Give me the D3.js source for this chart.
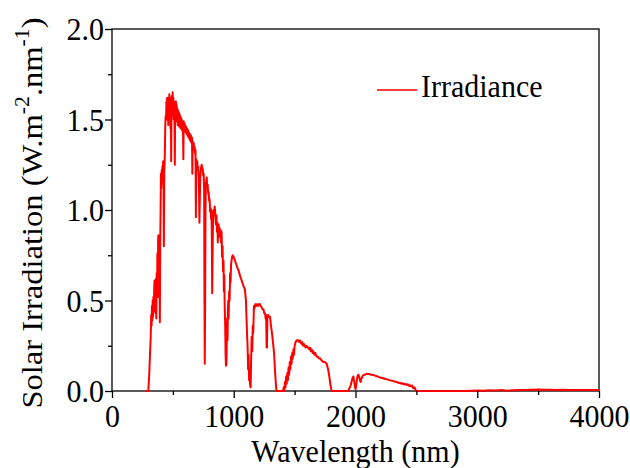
<!DOCTYPE html>
<html><head><meta charset="utf-8">
<script src="https://cdn.jsdelivr.net/npm/d3@7/dist/d3.min.js"></script>
<style>body{margin:0;background:#fff}svg{display:block}</style>
</head><body>
<svg id="c" width="630" height="468"></svg>
<script>
const wavelength = [280,298,305,312,318,322,325,328,331,334,337,340,343,346,349,352,355,358,361,364,367,370,373,376,379,381,384,387,390,393,396,399,402,405,408,411,414,417,420,423,426,429,432,435,438,441,444,447,450,453,456,459,462,465,468,471,474,477,480,483,486,489,492,495,498,501,504,507,510,513,516,519,522,525,528,531,534,537,540,543,546,549,552,555,558,561,564,567,570,573,576,580,583,586,589,592,595,598,601,605,609,613,617,621,625,629,633,637,641,645,649,653,657,660,663,667,671,675,679,683,686,689,692,696,700,704,708,712,715,718,721,725,729,733,737,741,745,749,753,757,759,762,765,768,771,775,778,782,786,790,794,798,802,806,810,814,817,820,823,826,829,832,836,840,843,846,850,854,858,862,866,869,872,876,880,884,888,892,896,900,904,908,912,916,919,922,926,930,933,936,940,943,946,949,952,955,958,962,966,970,974,978,982,986,991,1000,1010,1020,1030,1038,1050,1060,1070,1080,1092,1100,1106,1110,1114,1118,1122,1126,1130,1135,1139,1142,1147,1152,1156,1160,1166,1172,1178,1185,1192,1200,1208,1215,1222,1230,1238,1245,1250,1257,1262,1266,1270,1273,1276,1282,1290,1298,1306,1314,1322,1331,1340,1348,1352,1405,1410,1416,1420,1425,1430,1435,1440,1445,1450,1455,1460,1465,1470,1475,1480,1485,1490,1495,1500,1508,1517,1525,1530,1537,1544,1550,1556,1562,1570,1576,1584,1590,1598,1606,1614,1620,1626,1634,1640,1648,1654,1662,1670,1680,1690,1700,1710,1720,1735,1749,1763,1775,1785,1795,1804,1940,1960,1975,1982,1990,1996,2001,2008,2015,2023,2030,2036,2042,2050,2060,2075,2092,2110,2130,2150,2170,2190,2201,2220,2240,2260,2280,2300,2320,2340,2355,2366,2380,2390,2400,2410,2420,2430,2440,2448,2455,2465,2475,2485,2495,2502,2900,2950,3000,3050,3100,3150,3200,3250,3300,3350,3400,3450,3500,3550,3600,3650,3700,3750,3800,3850,3900,3950,4000];
const irradiance = [0,0,0.08,0.2,0.3,0.42,0.36,0.47,0.39,0.5,0.41,0.52,0.44,0.55,0.61,0.46,0.58,0.43,0.62,0.40,0.65,0.56,0.76,0.52,0.84,0.86,0.62,0.78,0.70,0.38,0.80,0.98,1.20,1.12,1.22,1.16,1.24,1.20,1.27,1.22,0.80,1.20,1.26,1.35,1.48,1.52,1.50,1.60,1.55,1.62,1.50,1.60,1.47,1.62,1.55,1.64,1.52,1.60,1.45,1.62,1.27,1.58,1.63,1.52,1.65,1.58,1.62,1.50,1.60,1.55,1.25,1.57,1.52,1.60,1.49,1.58,1.50,1.56,1.47,1.55,1.50,1.54,1.46,1.53,1.48,1.52,1.45,1.51,1.47,1.50,1.44,1.49,1.45,1.28,1.49,1.46,1.48,1.44,1.47,1.43,1.46,1.42,1.45,1.41,1.44,1.40,1.43,1.39,1.42,1.38,1.41,1.37,1.40,1.20,1.38,1.35,1.37,1.33,1.35,1.31,1.33,0.96,1.28,1.25,1.27,1.22,1.24,1.18,1.10,0.93,1.05,1.18,1.22,1.24,1.25,1.22,1.23,1.19,1.20,1.10,0.60,0.15,0.50,1.00,1.14,1.17,1.18,1.13,1.14,1.09,1.10,1.05,1.06,0.99,1.01,0.95,1.00,0.85,0.54,0.75,0.90,0.98,1.00,0.97,1.02,1.00,0.97,0.92,0.97,0.88,0.93,0.82,0.87,0.92,0.86,0.90,0.85,0.89,0.82,0.88,0.74,0.80,0.66,0.72,0.55,0.64,0.46,0.35,0.20,0.14,0.15,0.30,0.40,0.28,0.45,0.50,0.40,0.55,0.50,0.65,0.60,0.70,0.72,0.74,0.75,0.74,0.72,0.70,0.68,0.67,0.64,0.62,0.60,0.58,0.56,0.50,0.38,0.30,0.24,0.12,0.20,0.06,0.10,0.03,0.02,0.15,0.30,0.22,0.36,0.32,0.47,0.46,0.48,0.47,0.48,0.47,0.48,0.48,0.47,0.46,0.45,0.45,0.43,0.43,0.40,0.42,0.24,0.24,0.40,0.42,0.41,0.41,0.36,0.32,0.27,0.21,0.10,0.02,0,0,0.02,0.0,0.05,0.02,0.08,0.04,0.10,0.06,0.13,0.09,0.16,0.12,0.19,0.15,0.21,0.18,0.23,0.20,0.25,0.27,0.28,0.28,0.28,0.27,0.28,0.27,0.26,0.27,0.25,0.26,0.25,0.24,0.25,0.24,0.24,0.23,0.24,0.22,0.23,0.21,0.22,0.20,0.21,0.19,0.19,0.18,0.18,0.17,0.16,0.16,0.15,0.12,0.08,0.03,0,0,0.03,0.07,0.08,0.05,0.02,0.01,0.04,0.08,0.09,0.08,0.06,0.05,0.07,0.085,0.09,0.095,0.094,0.09,0.088,0.083,0.078,0.075,0.072,0.068,0.064,0.060,0.057,0.052,0.050,0.044,0.045,0.040,0.043,0.036,0.040,0.033,0.037,0.028,0.032,0.026,0.030,0.015,0.020,0.004,0,0,0.002,0.003,0.001,0.004,0.003,0.005,0.002,0.004,0.005,0.006,0.007,0.008,0.007,0.007,0.006,0.007,0.006,0.006,0.005,0.006,0.005,0.005];
const xTicks = [0,1000,2000,3000,4000];
const xMinor = [500,1500,2500,3500];
const yTicks = [0,0.5,1.0,1.5,2.0];
const yMinor = [0.25,0.75,1.25,1.75];
const seriesName = "Irradiance";

const svg = d3.select('#c');
const FONT = '"Liberation Serif","Times New Roman",serif';
const FS = 30, SY = 1.085;
const L=112, R=599, T=29, B=391;
const x = d3.scaleLinear().domain([0,4000]).range([L,R]);
const y = d3.scaleLinear().domain([0,2]).range([B,T]);

// frame
svg.append('rect').attr('x',L).attr('y',T).attr('width',R-L).attr('height',B-T)
  .attr('fill','none').attr('stroke','#000').attr('stroke-width',1.3);

// data line
const data = wavelength.map((w,i)=>[w,irradiance[i]]);
svg.append('path').datum(data)
  .attr('d', d3.line().x(d=>x(d[0])).y(d=>y(d[1])))
  .attr('fill','none').attr('stroke','#ff0000').attr('stroke-width',2).attr('stroke-linejoin','round');

// axes
const gx = svg.append('g').attr('transform',`translate(0,${B})`)
  .call(d3.axisBottom(x).tickValues(xTicks).tickSize(7).tickFormat(d3.format('d')));
const gxm = svg.append('g').attr('transform',`translate(0,${B})`)
  .call(d3.axisBottom(x).tickValues(xMinor).tickSize(4).tickFormat(''));
const gy = svg.append('g').attr('transform',`translate(${L},0)`)
  .call(d3.axisLeft(y).tickValues(yTicks).tickSize(7).tickFormat(d3.format('.1f')));
const gym = svg.append('g').attr('transform',`translate(${L},0)`)
  .call(d3.axisLeft(y).tickValues(yMinor).tickSize(4).tickFormat(''));
[gx,gxm,gy,gym].forEach(g=>{
  g.select('.domain').remove();
  g.selectAll('line').attr('stroke','#000').attr('stroke-width',1.3);
});
gx.selectAll('text').attr('font-family',FONT).attr('font-size',FS).attr('fill','#000')
  .attr('dy',null).attr('y',36/SY).attr('transform',`scale(1,${SY})`);
gy.selectAll('text').attr('font-family',FONT).attr('font-size',FS).attr('fill','#000')
  .attr('dy',null).attr('x',-8).attr('y',10.5/SY).attr('transform',`scale(1,${SY})`);
gy.attr('text-anchor','end');
gx.attr('text-anchor','middle');

// x title
svg.append('text').attr('font-family',FONT).attr('font-size',FS).attr('text-anchor','middle')
  .attr('transform',`translate(${(L+R)/2},462) scale(1,${SY})`).text('Wavelength (nm)');

// y title with superscripts
const yt = svg.append('text').attr('font-family',FONT).attr('font-size',FS).attr('text-anchor','middle')
  .attr('transform',`translate(42,213) rotate(-90) scale(${SY},1)`);
yt.append('tspan').text('Solar Irradiation (W.m');
yt.append('tspan').attr('font-size',20).attr('dy',-13).text('-2');
yt.append('tspan').attr('dy',13).text('.nm');
yt.append('tspan').attr('font-size',20).attr('dy',-13).text('-1');
yt.append('tspan').attr('dy',13).text(')');

// legend
svg.append('line').attr('x1',377).attr('x2',417).attr('y1',90).attr('y2',90)
  .attr('stroke','#ff0000').attr('stroke-width',1.6);
svg.append('text').attr('font-family',FONT).attr('font-size',FS)
  .attr('transform',`translate(421,97) scale(1,${SY})`).text(seriesName);
</script>
</body></html>
